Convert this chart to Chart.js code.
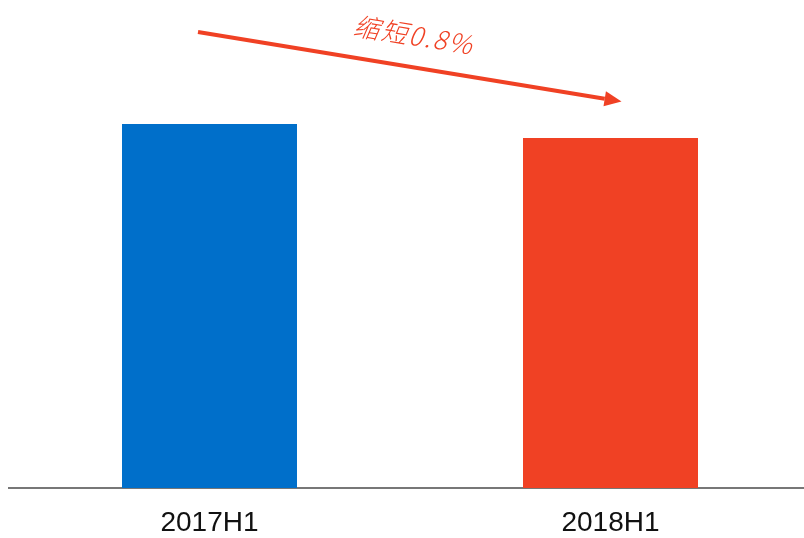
<!DOCTYPE html>
<html>
<head>
<meta charset="utf-8">
<script src="https://cdn.jsdelivr.net/npm/chart.js@4.4.1/dist/chart.umd.min.js"></script>
<style>
  html, body { margin: 0; padding: 0; background: #ffffff; overflow: hidden; }
  #wrap { position: relative; width: 812px; height: 538px; }
</style>
</head>
<body>
<div id="wrap"><canvas id="c"></canvas></div>
<script>
// Data (arbitrary unit; axis hidden in source)
const categories = ['2017H1', '2018H1'];
const values = [36.4, 35.0];
const barColors = ['#006FCA', '#F04124'];
const annotationText = '缩短0.8%';

const arrowPlugin = {
  id: 'arrowNote',
  afterDatasetsDraw(chart) {
    const bars = chart.getDatasetMeta(0).data;
    if (bars.length < 2) return;
    const ctx = chart.ctx;
    const x0 = bars[0].x - 11.5, y0 = bars[0].y - 92;
    const x1 = bars[1].x + 11, y1 = bars[1].y - 36.5;
    const ang = Math.atan2(y1 - y0, x1 - x0);
    const headLen = 17, headHalf = 7.5;
    const red = '#F04124';
    ctx.save();
    ctx.strokeStyle = red;
    ctx.fillStyle = red;
    ctx.lineWidth = 4;
    const bx = x1 - headLen * Math.cos(ang), by = y1 - headLen * Math.sin(ang);
    ctx.beginPath();
    ctx.moveTo(x0, y0);
    ctx.lineTo(bx, by);
    ctx.stroke();
    ctx.beginPath();
    ctx.moveTo(x1, y1);
    ctx.lineTo(bx + headHalf * Math.sin(ang), by - headHalf * Math.cos(ang));
    ctx.lineTo(bx - headHalf * Math.sin(ang), by + headHalf * Math.cos(ang));
    ctx.closePath();
    ctx.fill();
    // label
    const mx = (x0 + x1) / 2, my = (y0 + y1) / 2;
    const off = 32;
    const tx = mx + off * Math.sin(ang) - 1, ty = my - off * Math.cos(ang);
    ctx.translate(tx, ty);
    ctx.rotate(ang);
    ctx.font = 'italic 300 26px "Noto Sans CJK SC"';
    ctx.letterSpacing = '2px';
    ctx.textAlign = 'center';
    ctx.textBaseline = 'middle';
    ctx.fillText(annotationText, 0, 0);
    ctx.restore();
  }
};

new Chart(document.getElementById('c'), {
  type: 'bar',
  data: {
    labels: categories,
    datasets: [{
      data: values,
      backgroundColor: barColors,
      borderWidth: 0,
      barPercentage: 1,
      categoryPercentage: 0.4364
    }]
  },
  options: {
    responsive: true,
    maintainAspectRatio: false,
    animation: false,
    devicePixelRatio: 1,
    layout: { padding: { left: 9, right: 1, top: 0, bottom: 0 } },
    plugins: { legend: { display: false }, tooltip: { enabled: false } },
    scales: {
      x: {
        grid: { display: false, drawTicks: false, tickLength: 0 },
        border: { display: true, color: '#777777', width: 2 },
        ticks: {
          color: '#111111',
          padding: 18,
          font: { family: '"Liberation Sans", Arial, sans-serif', size: 28 }
        },
        afterFit(scale) { scale.height = 50; }
      },
      y: {
        display: false,
        min: 0,
        max: 48.8
      }
    }
  },
  plugins: [arrowPlugin]
});
</script>
</body>
</html>
